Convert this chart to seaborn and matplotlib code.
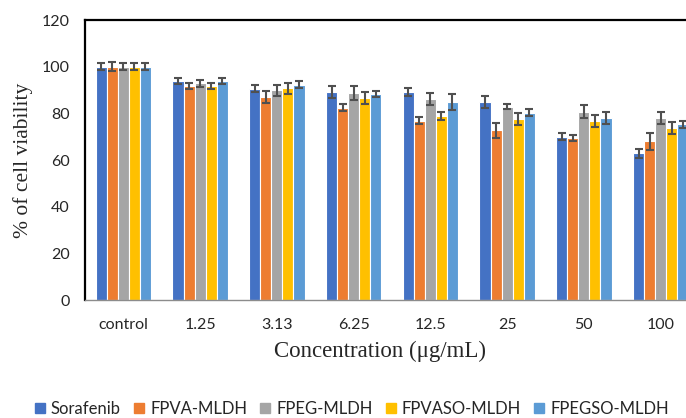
import matplotlib
matplotlib.use("Agg")
import matplotlib.pyplot as plt
import pandas as pd
import seaborn as sns

concentrations = ["control", "1.25", "3.13", "6.25", "12.5", "25", "50", "100"]
formulations = ["Sorafenib", "FPVA-MLDH", "FPEG-MLDH", "FPVASO-MLDH", "FPEGSO-MLDH"]
colors = ["#4472C4", "#ED7D31", "#A5A5A5", "#FFC000", "#5B9BD5"]

sorafenib = [100, 93.7, 90.6, 89.2, 89.2, 85.0, 70.0, 62.8]
fpva_mldh = [100, 91.7, 87.0, 82.4, 76.9, 72.7, 69.5, 68.1]
fpeg_mldh = [100, 92.9, 89.8, 88.9, 86.0, 82.9, 80.7, 78.0]
fpvaso_mldh = [100, 91.7, 90.8, 86.7, 78.9, 77.7, 76.7, 73.9]
fpegso_mldh = [100, 94.0, 92.2, 88.2, 84.9, 80.3, 78.1, 75.4]

sorafenib_err = [1.6, 1.3, 1.4, 2.5, 1.6, 2.5, 1.4, 2.0]
fpva_mldh_err = [1.8, 1.3, 2.4, 1.6, 1.5, 3.1, 1.4, 3.6]
fpeg_mldh_err = [1.6, 1.4, 2.4, 3.0, 2.6, 1.2, 2.9, 2.5]
fpvaso_mldh_err = [1.6, 1.4, 2.4, 2.5, 1.6, 2.5, 2.4, 2.6]
fpegso_mldh_err = [1.6, 1.3, 1.5, 1.4, 3.6, 1.4, 2.6, 1.5]

values = [sorafenib, fpva_mldh, fpeg_mldh, fpvaso_mldh, fpegso_mldh]
errors = [sorafenib_err, fpva_mldh_err, fpeg_mldh_err, fpvaso_mldh_err, fpegso_mldh_err]

rows = []
for name, vals in zip(formulations, values):
    for conc, v in zip(concentrations, vals):
        rows.append({"Concentration": conc, "Formulation": name, "Viability": v})
df = pd.DataFrame(rows)

sns.set_style("white")
plt.rcParams["font.family"] = ["Lato", "DejaVu Sans"]

fig = plt.figure(figsize=(6.86, 4.18), dpi=100)
ax = fig.add_axes([85 / 686, 118 / 418, 614 / 686, 280 / 418])

sns.barplot(
    data=df, x="Concentration", y="Viability", hue="Formulation",
    order=concentrations, hue_order=formulations, palette=colors,
    width=0.72, errorbar=None, edgecolor="white", linewidth=0.8,
    saturation=1, ax=ax,
)

for container, errs in zip(ax.containers, errors):
    xs = [bar.get_x() + bar.get_width() / 2 for bar in container]
    ys = [bar.get_height() for bar in container]
    ax.errorbar(xs, ys, yerr=errs, fmt="none", ecolor="#505050",
                elinewidth=1.5, capsize=3, capthick=1.5, zorder=5)

ax.set_ylim(0, 120)
ax.set_yticks(range(0, 121, 20))
ax.set_xlim(-0.5, len(concentrations) - 0.5)
ax.tick_params(axis="both", length=0, labelsize=11.5, colors="#262626")
ax.tick_params(axis="y", pad=11)
ax.tick_params(axis="x", pad=13)

for side in ["left", "top"]:
    ax.spines[side].set_color("black")
    ax.spines[side].set_linewidth(1.6)
ax.spines["right"].set_visible(False)
ax.spines["bottom"].set_color("#8c8c8c")
ax.spines["bottom"].set_linewidth(1.0)

ax.set_xlabel("Concentration (\u03bcg/mL)", fontsize=16.5,
              family=["Liberation Serif", "DejaVu Serif"])
ax.xaxis.set_label_coords(0.48, -0.145)
ax.set_ylabel("% of cell viability", fontsize=15.5,
              family=["Liberation Serif", "DejaVu Serif"], labelpad=6)

ax.legend_.remove()
handles = [plt.Rectangle((0, 0), 1, 1, color=c) for c in colors]
fig.legend(handles, formulations, loc="center", bbox_to_anchor=(352 / 686, 1 - 409 / 418),
           ncol=5, frameon=False, fontsize=12, handlelength=0.6, handleheight=0.6,
           handletextpad=0.35, columnspacing=0.8)

fig.savefig("out.png", dpi=100)
